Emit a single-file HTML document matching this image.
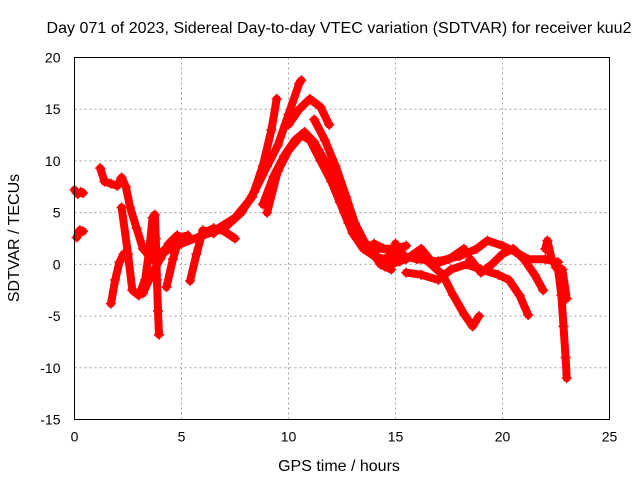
<!DOCTYPE html>
<html><head><meta charset="utf-8"><style>
body{margin:0;background:#fff}
svg{display:block}
text{font-family:"Liberation Sans",sans-serif;font-size:14px;fill:#000}
.big{font-size:16px}
</style></head><body>
<svg id="chart" width="640" height="480">
<text class="big" x="339" y="33" text-anchor="middle" textLength="585">Day 071 of 2023, Sidereal Day-to-day VTEC variation (SDTVAR) for receiver kuu2</text>
<text class="big" x="339" y="471" text-anchor="middle">GPS time / hours</text>
<text class="big" transform="translate(19,238) rotate(-90)" text-anchor="middle">SDTVAR / TECUs</text>
<g id="grid"></g><g id="ticks"></g><g id="marks"></g>
<rect x="74.5" y="57.5" width="535" height="362" fill="none" stroke="#000"/>
</svg>
<script>
const xTicks=[0,5,10,15,20,25];
const yTicks=[20,15,10,5,0,-5,-10,-15];
const trackA1=[[0,7.2],[0.15,6.8],[0.3,7.0],[0.4,6.9]];
const trackA2=[[0.1,2.6],[0.25,3.3],[0.4,3.2]];
const trackB=[[1.2,9.3],[1.4,8.0],[1.7,7.8],[2.0,7.6],[2.2,8.4],[2.4,7.5],[2.6,5.5],[2.9,3.5],[3.2,1.5],[3.5,0.8],[3.8,0.2],[4.1,1.2],[4.5,2.0],[5.0,2.3]];
const trackC=[[1.7,-3.8],[1.9,-1.5],[2.1,0.2],[2.3,1.0]];
const trackD=[[2.2,5.5],[2.5,1],[2.7,-2.5],[3.0,-3.0],[3.3,-1.5],[3.5,1.5],[3.65,4.5],[3.75,4.8],[3.8,2.5],[3.85,-1.5],[3.9,-4.5],[3.95,-6.8]];
const trackE=[[3.2,-2.8],[3.6,-1.0],[4.0,0.5],[4.4,2.0],[4.8,2.8],[5.2,2.5]];
const trackF=[[4.3,-2.2],[4.6,0.5],[4.9,2.6],[5.3,2.8]];
const trackG=[[5.4,-1.6],[5.7,1.0],[6.0,3.3],[6.5,3.0]];
const trackMain1=[[4.0,1.0],[5.0,2.0],[6.0,2.8],[7.0,3.5],[7.8,5.0],[8.4,7.0],[9.0,9.5],[9.5,11.5],[10.0,14.5],[10.5,17.5],[10.6,17.8]];
const trackMain2=[[6.5,3.2],[7.5,4.5],[8.3,6.5],[8.8,9.5],[9.2,13.0],[9.45,16.0]];
const trackMain3=[[7.5,2.5],[7.0,3.2],[6.5,3.5],[6.0,3.0]];
const trackPeak1=[[8.8,5.8],[9.3,8.5],[9.8,10.5],[10.3,12.0],[10.75,12.8],[11.2,11.8],[11.7,10.0],[12.2,7.5],[12.6,5.0],[13.0,3.0],[13.5,1.5],[14.0,0.8],[14.5,0.5],[15.0,1.0]];
const trackPeak2=[[9.0,5.0],[9.5,9.0],[10.0,11.0],[10.6,12.5],[11.0,12.0],[11.5,10.0],[12.0,8.0],[12.4,6.0],[12.8,4.0],[13.3,2.5],[13.8,1.5],[14.3,0.0],[14.8,-0.5]];
const trackPeak3=[[10.0,13.5],[10.5,15.0],[11.0,16.0],[11.5,15.2],[11.9,13.5]];
const trackPeak4=[[11.2,14.0],[11.7,12.0],[12.2,9.5],[12.7,6.5],[13.1,4.0],[13.6,2.0],[14.2,1.5],[15.0,1.5],[15.5,1.8]];
const trackLow1=[[14.0,2.0],[15.0,1.0],[16.0,0.5],[17.0,0.3],[18.0,0.8],[18.8,1.5],[19.3,2.3],[20.0,1.8],[20.6,1.2],[21.2,0.5],[22.0,0.5],[22.6,0.2]];
const trackLow2=[[15.5,-0.8],[16.2,-1.0],[17.0,-1.5],[17.6,-0.5],[18.3,0.0],[19.0,-0.5],[19.8,-1.0],[20.3,-1.5],[20.8,-3.0],[21.2,-4.9]];
const trackLow3=[[14.5,-0.2],[15.2,0.3],[16.0,1.0],[16.5,0.3],[17.2,-1.0],[17.7,-3.0],[18.2,-4.8],[18.6,-6.0],[18.9,-5.0]];
const trackLow4=[[18.5,0.5],[19.0,-0.8],[19.5,0.0],[20.0,1.0],[20.5,1.5],[21.0,0.5],[21.5,-1.0],[21.9,-2.5]];
const trackLow5=[[15.0,2.0],[15.5,0.5],[16.2,1.5],[16.8,0.0],[17.5,0.5],[18.2,1.5]];
const trackEnd1=[[22.0,1.5],[22.1,2.3],[22.3,0.5],[22.6,-0.5],[22.75,-3.0],[22.85,-6.0],[22.95,-9.0],[23.0,-11.0]];
const trackEnd2=[[22.5,-0.3],[22.8,-0.5],[23.0,-3.3]];
const series=[trackA1,trackA2,trackB,trackC,trackD,trackE,trackF,trackG,trackMain1,trackMain2,trackMain3,trackPeak1,trackPeak2,trackPeak3,trackPeak4,trackLow1,trackLow2,trackLow3,trackLow4,trackLow5,trackEnd1,trackEnd2];
const NS='http://www.w3.org/2000/svg';
const L=74.5,R=609.5,T=57.5,B=419.5;
const xs=v=>L+(v-0)/(25-0)*(R-L);
const ys=v=>B-(v+15)/(35)*(B-T);
function mk(tag,attrs,parent){const e=document.createElementNS(NS,tag);for(const k in attrs)e.setAttribute(k,attrs[k]);parent.appendChild(e);return e;}
const grid=document.getElementById('grid'),ticks=document.getElementById('ticks'),marks=document.getElementById('marks');
xTicks.forEach(t=>{const x=xs(t);
 if(t>0&&t<25){const g=mk('line',{x1:x,y1:T,x2:x,y2:B,stroke:'#a0a0a0','stroke-dasharray':'2,3'},grid);
 
 }
 const tk=mk('text',{x:x,y:B+22,'text-anchor':'middle'},ticks);tk.textContent=t;
 
 
});
yTicks.forEach(t=>{const y=ys(t);
 if(t>-15&&t<20){const g=mk('line',{x1:L,y1:y,x2:R,y2:y,stroke:'#a0a0a0','stroke-dasharray':'2,3'},grid);
 
 }
 const tk=mk('text',{x:L-14,y:y+5,'text-anchor':'end'},ticks);tk.textContent=t;
 
 
});
series.forEach(s=>{
 const pts=s.map(p=>xs(p[0]).toFixed(1)+','+ys(p[1]).toFixed(1)).join(' ');
 const pl=mk('polyline',{points:pts,fill:'none',stroke:'#f00','stroke-width':8,'stroke-linejoin':'round','stroke-linecap':'round'},marks);
 
 
 s.forEach(p=>{const x=xs(p[0]),y=ys(p[1]);
  const m=mk('path',{d:`M${x-5},${y}h10M${x},${y-5}v10`,stroke:'#f00','stroke-width':1.5},marks);
  
  
 });
});
</script>
</body></html>
